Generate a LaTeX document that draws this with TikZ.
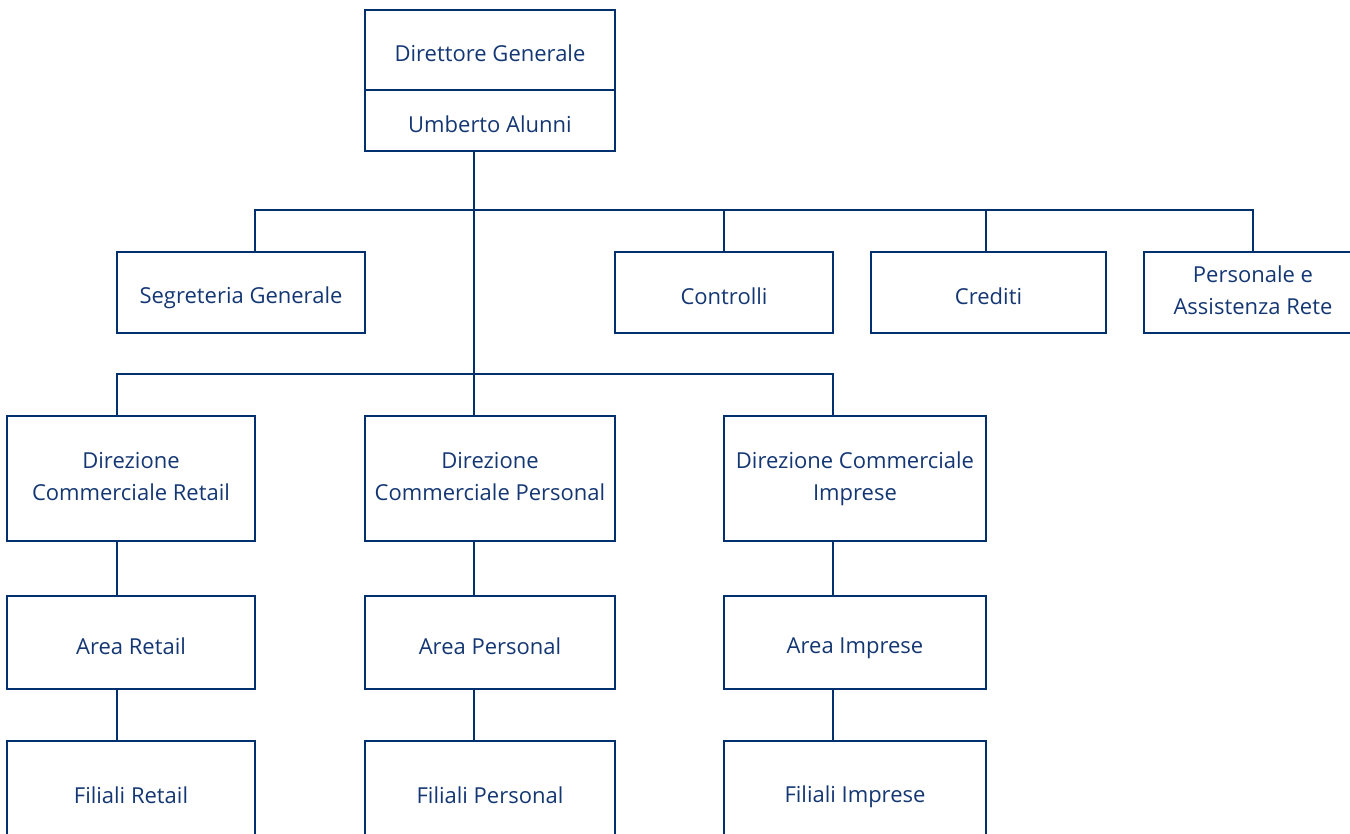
\documentclass[tikz,border=0pt]{standalone}
\usepackage{fontspec}
\setmainfont{Open Sans}
\definecolor{navy}{RGB}{0,48,110}
\definecolor{navytext}{RGB}{20,55,115}
\newcommand\boxstrut{\rule[-4pt]{0pt}{32pt}}
\tikzset{
  box/.style={draw=navy, line width=2pt, text=navytext, align=center, inner sep=0pt, outer sep=0pt,
    font=\fontsize{22}{32}\selectfont, execute at begin node=\boxstrut, execute at end node=\boxstrut},
  conn/.style={draw=navy, line width=2pt}
}
\begin{document}
\begin{tikzpicture}[x=1pt,y=-1pt]
\useasboundingbox (0,0) rectangle (1350,834);
% top
\node[box, minimum width=250pt, minimum height=80pt] (dg) at (490,50) {Direttore Generale};
\node[box, minimum width=250pt, minimum height=61pt] (ua) at (490,120.5) {Umberto Alunni};
% row 2
\node[box, minimum width=248pt, minimum height=81pt] (seg) at (241,292.5) {Segreteria Generale};
\node[box, minimum width=218pt, minimum height=81pt] (ctl) at (724,292.5) {Controlli};
\node[box, minimum width=235pt, minimum height=81pt] (cre) at (988.5,292.5) {Crediti};
\node[box, minimum width=218pt, minimum height=81pt] (per) at (1253,292.5) {Personale e\\Assistenza Rete};
% row 3
\node[box, minimum width=248pt, minimum height=125pt] (dr) at (131,478.5) {Direzione\\Commerciale Retail};
\node[box, minimum width=250pt, minimum height=125pt] (dp) at (490,478.5) {Direzione\\Commerciale Personal};
\node[box, minimum width=262pt, minimum height=125pt] (di) at (855,478.5) {Direzione Commerciale\\Imprese};
% row 4
\node[box, minimum width=248pt, minimum height=93pt] (ar) at (131,642.5) {Area Retail};
\node[box, minimum width=250pt, minimum height=93pt] (ap) at (490,642.5) {Area Personal};
\node[box, minimum width=262pt, minimum height=93pt] (ai) at (855,642.5) {Area Imprese};
% row 5
\node[box, minimum width=248pt, minimum height=100pt] (fr) at (131,791) {Filiali Retail};
\node[box, minimum width=250pt, minimum height=100pt] (fp) at (490,791) {Filiali Personal};
\node[box, minimum width=262pt, minimum height=100pt] (fi) at (855,791) {Filiali Imprese};
% junctions
\coordinate (j1) at (474,210);
\coordinate (j2) at (474,374);
\coordinate (xr) at (117,0);
\coordinate (xp) at (474,0);
\coordinate (xi) at (833,0);
\coordinate (xs) at (255,0);
\coordinate (xc) at (724,0);
\coordinate (xe) at (986,0);
\coordinate (xn) at (1253,0);
% connectors
\draw[conn] (ua.south -| j1) -- (j2);
\draw[conn] (seg.north -| xs) -- (j1 -| xs) -- (j1 -| xn) -- (per.north -| xn);
\draw[conn] (j1 -| xc) -- (ctl.north -| xc);
\draw[conn] (j1 -| xe) -- (cre.north -| xe);
\draw[conn] (dr.north -| xr) -- (j2 -| xr) -- (j2 -| xi) -- (di.north -| xi);
\draw[conn] (j2) -- (dp.north -| xp);
\draw[conn] (dr.south -| xr) -- (ar.north -| xr);
\draw[conn] (ar.south -| xr) -- (fr.north -| xr);
\draw[conn] (dp.south -| xp) -- (ap.north -| xp);
\draw[conn] (ap.south -| xp) -- (fp.north -| xp);
\draw[conn] (di.south -| xi) -- (ai.north -| xi);
\draw[conn] (ai.south -| xi) -- (fi.north -| xi);
\end{tikzpicture}
\end{document}
